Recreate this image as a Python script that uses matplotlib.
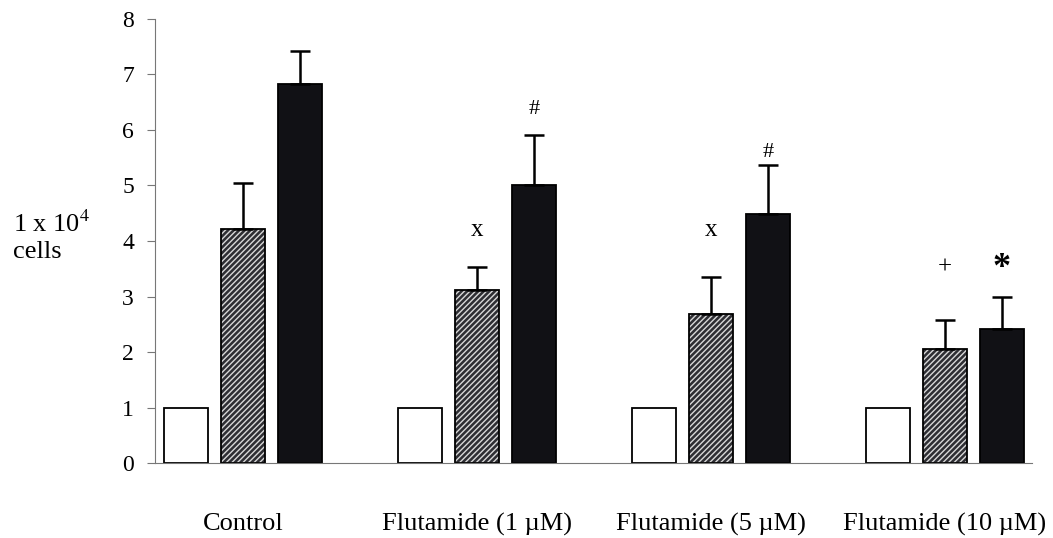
import matplotlib.pyplot as plt
import numpy as np

plt.rcParams['font.family'] = ['Liberation Serif', 'DejaVu Serif']
plt.rcParams['mathtext.fontset'] = 'stix'
plt.rcParams['hatch.linewidth'] = 1.0

groups = ["Control", "Flutamide (1 \u00b5M)", "Flutamide (5 \u00b5M)", "Flutamide (10 \u00b5M)"]
white_vals = [1.0, 1.0, 1.0, 1.0]
hatch_vals = [4.22, 3.11, 2.69, 2.06]
hatch_err = [0.82, 0.42, 0.66, 0.52]
black_vals = [6.82, 5.0, 4.48, 2.41]
black_err = [0.60, 0.90, 0.89, 0.58]
hatch_marks = ["", "x", "x", "+"]
hatch_mark_y = [0, 4.2, 4.2, 3.53]
black_marks = ["", "#", "#", "*"]
black_mark_y = [0, 6.36, 5.6, 3.5]

x = np.arange(len(groups))
w = 0.188
off = 0.244

fig = plt.figure(figsize=(10.53, 5.38), dpi=100)
ax = fig.add_axes([0.147, 0.139, 0.833, 0.826])

ax.bar(x - off, white_vals, w, color="white", edgecolor="black", linewidth=1.3)
ax.bar(x, hatch_vals, w, color="#2e2e33", edgecolor="#d8d8d8", hatch="//////", linewidth=0)
ax.bar(x, hatch_vals, w, fill=False, edgecolor="black", linewidth=1.3)
ax.errorbar(x, hatch_vals, yerr=[np.zeros(4), hatch_err], fmt="none",
            ecolor="black", elinewidth=1.8, capsize=7, capthick=1.8)
ax.bar(x + off, black_vals, w, color="#111115", edgecolor="black", linewidth=1.3)
ax.errorbar(x + off, black_vals, yerr=[np.zeros(4), black_err], fmt="none",
            ecolor="black", elinewidth=1.8, capsize=7, capthick=1.8)

for i in range(len(groups)):
    if hatch_marks[i]:
        ax.text(x[i], hatch_mark_y[i], hatch_marks[i], ha="center", va="center",
                fontsize=18)
    if black_marks[i]:
        if black_marks[i] == "*":
            ax.text(x[i] + off, black_mark_y[i], "*", ha="center", va="center",
                    fontsize=26, fontweight="bold")
        else:
            ax.text(x[i] + off, black_mark_y[i], black_marks[i], ha="center",
                    va="center", fontsize=16)

ax.set_xlim(-0.376, 3.372)
ax.set_ylim(0, 8)
ax.set_yticks(range(0, 9))
ax.tick_params(axis="y", labelsize=17, length=6, color="#777777", pad=9)
ax.set_xticks(x)
ax.set_xticklabels(groups)
ax.tick_params(axis="x", labelsize=19, length=0, pad=36)
for s in ["top", "right"]:
    ax.spines[s].set_visible(False)
ax.spines["left"].set_color("#777777")
ax.spines["bottom"].set_color("#777777")

fig.text(0.012, 0.56, "1 x 10$^{4}$\ncells", fontsize=19, ha="left", va="center",
         linespacing=1.25)

fig.savefig("out.png", dpi=100)
